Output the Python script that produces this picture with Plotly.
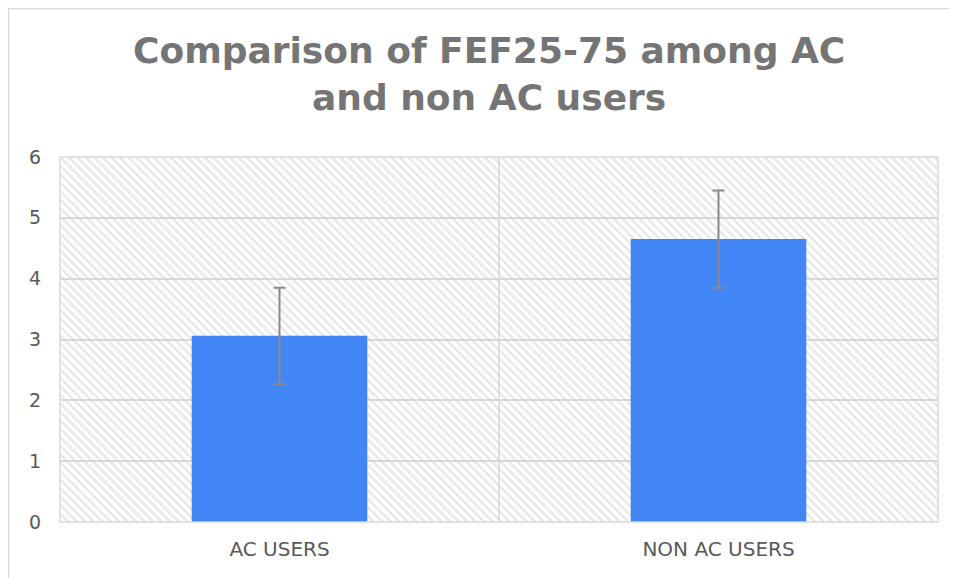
import plotly.graph_objects as go

categories = ["AC USERS", "NON AC USERS"]
means = [3.06, 4.65]
errors = [0.79, 0.80]
y_ticks = [0, 1, 2, 3, 4, 5, 6]

# figure sits 8px inside the page (default body margin)
W, H = 949, 570
L, R, T, B = 52, 19, 149, 56
PW, PH = W - L - R, H - T - B


def px_x(fx):
    return (fx - L) / PW


def px_y(fy):
    return (H - B - fy) / PH


fig = go.Figure()

# hatched plot-area background (transparent between stripes so grid shows)
fig.add_trace(go.Bar(
    x=[0.5], y=[y_ticks[-1]], width=[1], xaxis="x", yaxis="y",
    marker=dict(color="rgba(0,0,0,0)", line=dict(width=0),
                pattern=dict(shape="\\", fgcolor="#d0d0d0", bgcolor="rgba(0,0,0,0)",
                             size=6, solidity=0.4)),
    hoverinfo="skip", showlegend=False,
))

fig.add_trace(go.Bar(
    x=categories, y=means, width=0.4, xaxis="x2", yaxis="y",
    marker=dict(color="#4285f4", line=dict(width=0)),
    error_y=dict(type="data", array=errors, visible=True,
                 color="#8a8a8a", thickness=2, width=6),
    showlegend=False,
))

fig.update_layout(
    width=W, height=H,
    margin=dict(l=L, r=R, t=T, b=B, autoexpand=False),
    paper_bgcolor="white", plot_bgcolor="white",
    font=dict(family="DejaVu Sans, sans-serif", color="#595959", size=19),
    bargap=0.6,
    xaxis=dict(range=[0, 1], visible=False, showgrid=False, zeroline=False),
    xaxis2=dict(type="category", overlaying="x", anchor="y", side="bottom",
                showgrid=False, showline=False, ticks="", zeroline=False,
                ticklabelstandoff=13,
                tickfont=dict(size=20, color="#595959")),
    yaxis=dict(range=[0, 6], tickvals=y_ticks, showgrid=True,
               gridcolor="#d9d9d9", gridwidth=1.5, zeroline=False,
               showline=False, ticks="", ticklabelstandoff=18,
               tickfont=dict(size=19, color="#595959")),
    annotations=[dict(
        text="<b>Comparison of FEF25-75 among AC<br>and non AC users</b>",
        xref="paper", yref="paper", x=px_x(481), y=px_y(20),
        xanchor="center", yanchor="top", showarrow=False, align="center",
        font=dict(family="DejaVu Sans, sans-serif", size=36, color="#757575"),
    )],
    shapes=[
        # category divider
        dict(type="line", xref="paper", yref="paper", x0=0.5, x1=0.5, y0=0, y1=1,
             line=dict(color="#d9d9d9", width=1.5), layer="below"),
        # plot area border
        dict(type="rect", xref="paper", yref="paper", x0=0, x1=1, y0=0, y1=1,
             line=dict(color="#d9d9d9", width=1.5), layer="above"),
        # outer chart border
        dict(type="rect", xref="paper", yref="paper",
             x0=px_x(0.5), x1=px_x(W + 10), y0=px_y(H + 10), y1=px_y(0.5),
             line=dict(color="#d9d9d9", width=1.5)),
    ],
)

fig.write_html("out.html")
